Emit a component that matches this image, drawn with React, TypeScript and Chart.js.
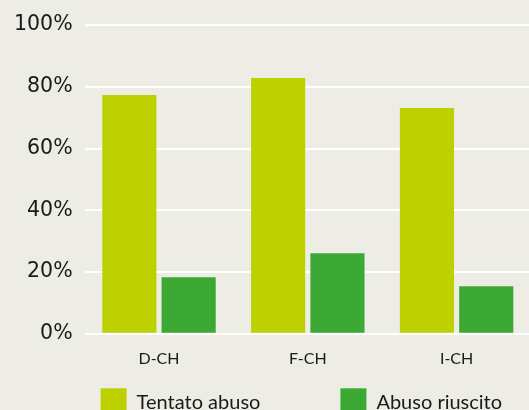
import React, { useEffect, useRef } from "react";
import { Chart, registerables } from "chart.js";

Chart.register(...registerables);

const categories = ["D-CH", "F-CH", "I-CH"];
const seriesNames = ["Tentato abuso", "Abuso riuscito"];
const tentatoAbuso = [77.3, 82.8, 73.1];
const abusoRiuscito = [18.3, 26.1, 15.4];
const yTicks = [0, 20, 40, 60, 80, 100];

const BG = "#EDECE5";
const YELLOW = "#BDD000";
const GREEN = "#3CA935";

const customLegend = {
  id: "customLegend",
  afterDraw(chart: any) {
    const { ctx, chartArea } = chart;
    const items = chart.data.datasets.map((d: any) => ({ text: d.label, color: d.backgroundColor }));
    ctx.save();
    ctx.font = "20px Lato";
    ctx.textBaseline = "middle";
    ctx.textAlign = "left";
    const box = 26;
    const gap = 80;
    let x = chartArea.left + 16;
    const top = chartArea.bottom + 54.5;
    items.forEach((it: any) => {
      ctx.fillStyle = it.color;
      ctx.fillRect(x, top, box, box);
      ctx.fillStyle = "#1a1a1a";
      const tx = x + box + 10;
      ctx.fillText(it.text, tx, top + 14);
      x = tx + ctx.measureText(it.text).width + gap;
    });
    ctx.restore();
  },
};

export default function App() {
  const ref = useRef<HTMLCanvasElement | null>(null);
  useEffect(() => {
    if (!ref.current) return;
    const chart = new Chart(ref.current, {
      type: "bar",
      data: {
        labels: categories,
        datasets: [
          {
            label: seriesNames[0],
            data: tentatoAbuso,
            backgroundColor: YELLOW,
            barPercentage: 0.913,
            categoryPercentage: 0.797,
          },
          {
            label: seriesNames[1],
            data: abusoRiuscito,
            backgroundColor: GREEN,
            barPercentage: 0.913,
            categoryPercentage: 0.797,
          },
        ],
      },
      options: {
        responsive: false,
        animation: false,
        layout: { padding: { left: 2, right: 0, top: 25, bottom: 47 } },
        plugins: { legend: { display: false }, tooltip: { enabled: false } },
        scales: {
          x: {
            grid: { display: false, drawTicks: false },
            border: { display: false },
            ticks: { color: "#1a1a1a", font: { family: "Lato", size: 16 }, padding: 15 },
          },
          y: {
            min: 0,
            max: 100,
            afterBuildTicks: (scale: any) => {
              scale.ticks = yTicks.map((v) => ({ value: v }));
            },
            grid: { color: "#FFFFFF", lineWidth: 2, drawTicks: false },
            border: { display: false },
            ticks: {
              color: "#1a1a1a",
              font: { family: "DejaVu Sans", size: 20.5 },
              padding: 12,
              callback: (v: any) => v + "%",
            },
          },
        },
      },
      plugins: [customLegend],
    });
    return () => chart.destroy();
  }, []);
  return (
    <div
      style={{
        position: "fixed",
        left: 0,
        top: 0,
        width: 529,
        height: 410,
        overflow: "hidden",
        background: BG,
      }}
    >
      <canvas ref={ref} width={531} height={430} style={{ display: "block" }} />
    </div>
  );
}
